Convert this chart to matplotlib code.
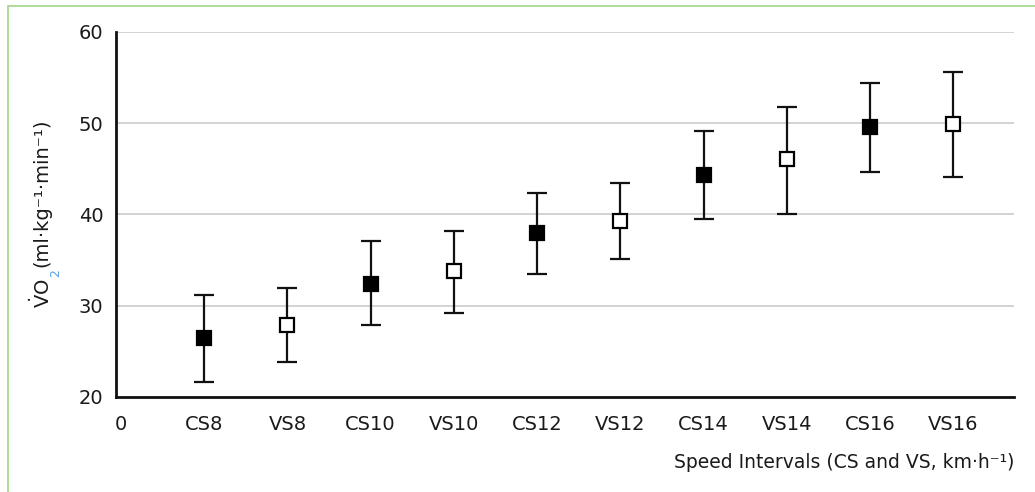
import numpy as np
import matplotlib.pyplot as plt
from matplotlib.patches import Rectangle

plt.rcParams['font.family'] = ['DejaVu Sans']

categories = ["CS8", "VS8", "CS10", "VS10", "CS12", "VS12", "CS14", "VS14", "CS16", "VS16"]
vo2_mean = [26.5, 27.9, 32.4, 33.8, 38.0, 39.3, 44.3, 46.1, 49.6, 49.9]
vo2_upper = [31.2, 31.9, 37.1, 38.2, 42.4, 43.5, 49.1, 51.8, 54.4, 55.6]
vo2_lower = [21.6, 23.8, 27.9, 29.2, 33.5, 35.1, 39.5, 40.0, 44.7, 44.1]
tick_labels = ["0"] + categories
y_ticks = [20, 30, 40, 50, 60]

fig = plt.figure(figsize=(10.35, 4.92), dpi=100)
ax = fig.add_axes([0.1121, 0.1931, 0.8676, 0.7419])

# light green frame around the figure (only top/left visible in the crop)
fig.patches.append(Rectangle((0.0077, -0.1), 1.2, 1.0878, transform=fig.transFigure,
                             fill=False, edgecolor="#9fd68a", linewidth=1.2))

x = np.arange(1, len(categories) + 1)
mean = np.array(vo2_mean)
err = [mean - np.array(vo2_lower), np.array(vo2_upper) - mean]

for start, face in [(0, "black"), (1, "white")]:
    sl = slice(start, None, 2)
    ax.errorbar(x[sl], mean[sl], yerr=[err[0][sl], err[1][sl]], fmt="s",
                color="black", ecolor="#111111", elinewidth=1.6, capsize=7.5,
                capthick=1.6, markersize=10.5, markerfacecolor=face,
                markeredgecolor="black", markeredgewidth=1.6, zorder=3)

ax.set_xlim(-0.06, 10.73)
ax.set_ylim(20, 60)
ax.set_xticks(range(len(tick_labels)), tick_labels)
ax.set_yticks(y_ticks)
ax.tick_params(length=0, labelsize=14, colors="#1a1a1a")
ax.tick_params(axis="x", pad=13)
ax.tick_params(axis="y", pad=9)
ax.grid(axis="y", color="#c8c8c8", linewidth=1.1)
ax.set_axisbelow(True)
for side in ["top", "right"]:
    ax.spines[side].set_visible(False)
for side in ["left", "bottom"]:
    ax.spines[side].set_linewidth(2)
    ax.spines[side].set_color("#111111")

ax.set_xlabel("Speed Intervals (CS and VS, km\u00b7h\u207b\u00b9)", fontsize=13.5,
              loc="right", labelpad=14, color="#1a1a1a")

# y label built from pieces so the subscript can be blue
W, H = fig.bbox.width, fig.bbox.height
t1 = fig.text(0.040, 0.374, r"$\dot{\mathrm{V}}$O", rotation=90, fontsize=14,
              color="#1a1a1a", ha="center", va="bottom")
fig.canvas.draw()
bb = t1.get_window_extent()
t2 = fig.text((bb.x1 - 5) / W, (bb.y1 + 1) / H, "2", rotation=90, fontsize=9,
              color="#5aa0e0", ha="left", va="bottom")
fig.canvas.draw()
bb2 = t2.get_window_extent()
fig.text(0.040, (bb2.y1 + 3) / H, "(ml\u00b7kg\u207b\u00b9\u00b7min\u207b\u00b9)",
         rotation=90, fontsize=14, color="#1a1a1a", ha="center", va="bottom")

fig.savefig("out.png", dpi=100)
